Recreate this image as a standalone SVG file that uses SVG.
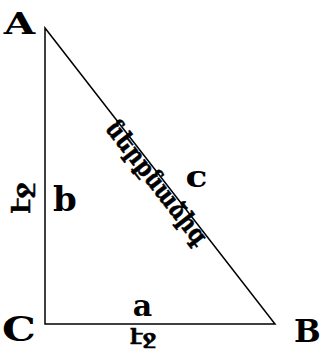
<svg xmlns="http://www.w3.org/2000/svg" width="322" height="357" viewBox="0 0 322 357">
<style>
.v{font-family:"DejaVu Serif","Liberation Serif",serif;font-weight:bold;fill:#000}
.arm{font-family:"DejaVu Serif","DejaVu Sans",serif;font-weight:bold;fill:#000;stroke:#000;stroke-width:0.5}
.edge{fill:none;stroke:#000;stroke-width:1.5}
</style>
<rect width="322" height="357" fill="#fff"/>
<g id="connectors">
<path class="edge" d="M45 28 L45 324 L275 324 Z"/>
</g>
<g id="A"><text class="v" font-size="30" transform="translate(19.5 34) scale(1.35 1)" text-anchor="middle">A</text></g>
<g id="B"><text class="v" font-size="31" transform="translate(294 342) scale(1.02 1)">B</text></g>
<g id="C"><text class="v" font-size="34" transform="translate(19 341) scale(1.25 1)" text-anchor="middle">C</text></g>
<g id="label-a"><text class="v" font-size="30" x="142.5" y="316" text-anchor="middle">a</text></g>
<g id="label-b"><text class="v" font-size="34" x="65" y="211" text-anchor="middle">b</text></g>
<g id="label-c"><text class="v" font-size="30" transform="translate(196.5 187) scale(1.2 1)" text-anchor="middle">c</text></g>
<g id="leg-bottom"><text class="arm" font-size="21" x="143" y="344" text-anchor="middle">էջ</text></g>
<g id="leg-left"><text class="arm" font-size="25" transform="translate(30 198) rotate(-90)" text-anchor="middle">էջ</text></g>
<g id="hypotenuse"><text class="arm" font-size="25" transform="translate(150.5 188) rotate(52.2)" text-anchor="middle" textLength="150" lengthAdjust="spacingAndGlyphs">ներքնաձիգ</text></g>
</svg>
